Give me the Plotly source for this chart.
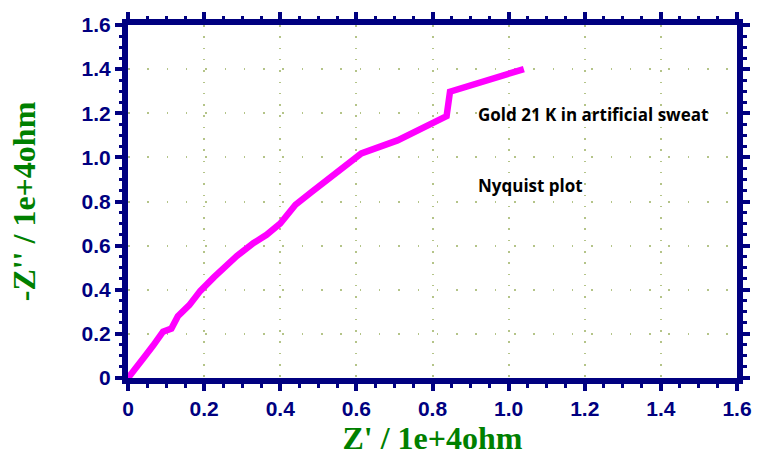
import plotly.graph_objects as go

# Nyquist impedance data, units of 1e4 ohm
z_real = [0.0, 0.018, 0.045, 0.066, 0.092, 0.114, 0.131, 0.161, 0.19, 0.226,
          0.286, 0.33, 0.364, 0.40, 0.44, 0.484, 0.60, 0.613, 0.708, 0.811,
          0.837, 0.846, 1.04]
z_imag_neg = [0.0, 0.044, 0.10, 0.147, 0.21, 0.224, 0.28, 0.33, 0.395, 0.457,
              0.553, 0.612, 0.649, 0.70, 0.785, 0.845, 1.003, 1.018, 1.077, 1.165,
              1.187, 1.298, 1.40]

tick_vals = [0, 0.2, 0.4, 0.6, 0.8, 1.0, 1.2, 1.4, 1.6]
tick_text = ["0", "0.2", "0.4", "0.6", "0.8", "1.0", "1.2", "1.4", "1.6"]

navy = "#000080"
grid_col = "#b4c488"

fig = go.Figure()
fig.add_trace(go.Scatter(
    x=z_real, y=z_imag_neg, mode="lines",
    line=dict(color="#ff00ff", width=6.5),
    showlegend=False,
))

axis_common = dict(
    range=[0, 1.6],
    tickvals=tick_vals,
    ticktext=tick_text,
    showline=True, linecolor=navy, linewidth=6,
    mirror="allticks",
    ticks="outside", ticklen=7, tickwidth=3.5, tickcolor=navy,
    minor=dict(dtick=0.05, ticks="outside", ticklen=3.5, tickwidth=3,
               tickcolor=navy, showgrid=False),
    showgrid=True, gridcolor=grid_col, gridwidth=1.5,
    zeroline=False,
    tickfont=dict(family="Liberation Sans, Arial", size=21, color=navy, weight="bold"),
)

fig.update_xaxes(
    **axis_common,
    griddash="1.5px,9.8px",
    title=dict(text="<b>Z' / 1e+4ohm</b>", standoff=8,
               font=dict(family="Liberation Serif, Times New Roman", size=32, color="#008000")),
)
fig.update_yaxes(
    **axis_common,
    griddash="1.5px,17.8px",
    title=dict(text="<b>-Z'' / 1e+4ohm</b>", standoff=38,
               font=dict(family="Liberation Serif, Times New Roman", size=32, color="#008000")),
)

label_font = dict(family="Open Sans, Noto Sans", size=17, color="black")
fig.add_annotation(x=0.915, y=1.195, xref="x", yref="y", xanchor="left",
                   text="<b>Gold 21 K in artificial sweat</b>", showarrow=False, font=label_font)
fig.add_annotation(x=0.915, y=0.872, xref="x", yref="y", xanchor="left",
                   text="<b>Nyquist plot</b>", showarrow=False, font=label_font)

fig.update_layout(
    width=764, height=463,
    margin=dict(l=128, r=19, t=20, b=83),
    paper_bgcolor="white", plot_bgcolor="white",
)

fig.write_html("out.html")
